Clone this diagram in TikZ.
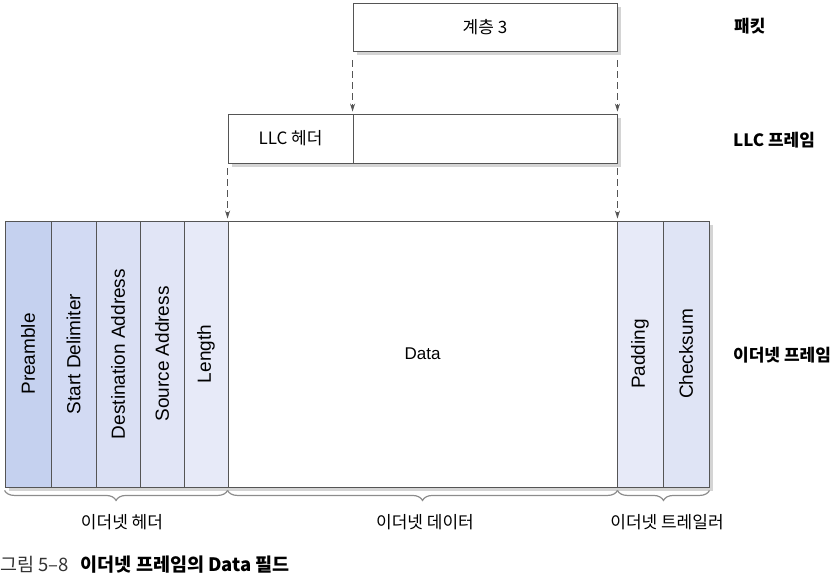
\documentclass[tikz,border=0pt]{standalone}
\usepackage{fontspec}
\setmainfont{Liberation Sans}
\newfontfamily\kr{Noto Sans CJK KR}
\usepackage{tikz}
\usetikzlibrary{arrows.meta,positioning,calc,decorations.pathreplacing}

\definecolor{linegray}{HTML}{555555}
\definecolor{shadowgray}{HTML}{D4D4D4}
\definecolor{bracegray}{HTML}{8C8C8C}
\definecolor{fillA}{HTML}{C5D1EF}
\definecolor{fillB}{HTML}{D2DAF3}
\definecolor{fillC}{HTML}{DAE0F4}
\definecolor{fillD}{HTML}{E1E5F6}
\definecolor{fillE}{HTML}{E7EAF8}
\definecolor{fillF}{HTML}{DFE4F5}

\begin{document}
\begin{tikzpicture}[
    x=1pt, y=-1pt,
    box/.style={draw=linegray, line width=0.9pt, fill=white, inner sep=0pt, font=\kr\fontsize{17}{20}\selectfont},
    field/.style={draw=linegray, line width=0.9pt, rotate=90, inner sep=0pt, minimum width=266pt, font=\fontsize{19}{22}\selectfont},
    arrow/.style={-{Stealth[length=8pt, width=5pt]}, linegray, line width=0.8pt, dash pattern=on 7pt off 4pt},
    brace/.style={decorate, decoration={brace, mirror, amplitude=10pt}, bracegray, line width=1.2pt},
    title/.style={anchor=west, inner sep=0pt, font=\kr\bfseries\fontsize{17}{20}\selectfont},
    part/.style={font=\kr\fontsize{17}{20}\selectfont}
]
\useasboundingbox (0,0) rectangle (835,577);

% Shadows
\fill [shadowgray] (357,7) rectangle (621,55);
\fill [shadowgray] (232,118) rectangle (621,167);
\fill [shadowgray] (9,225) rectangle (713,491);

% Packet
\node (packet) at (485,27) [box, minimum width=264pt, minimum height=48pt] {계층 3};
\node (packetlbl) at (734,26) [title] {패킷};

% LLC frame
\node (llchead) at (290.5,138.5) [box, minimum width=125pt, minimum height=49pt] {LLC 헤더};
\node (llcbody) at (485,138.5) [box, minimum width=264pt, minimum height=49pt] {};
\node (llclbl) at (733,140) [title] {LLC 프레임};

% Ethernet frame
\node (pre)  at (28,354)    [field, fill=fillA, minimum height=46pt] {Preamble};
\node (sd)   at (73.5,354)  [field, fill=fillB, minimum height=45pt] {Start Delimiter};
\node (dst)  at (118,354)   [field, fill=fillC, minimum height=44pt] {Destination Address};
\node (src)  at (162,354)   [field, fill=fillD, minimum height=44pt] {Source Address};
\node (len)  at (206,354)   [field, fill=fillE, minimum height=44pt] {Length};
\node (data) at (422.5,354) [draw=linegray, line width=0.9pt, fill=white, minimum width=389pt, minimum height=266pt, inner sep=0pt, font=\fontsize{17}{20}\selectfont] {Data};
\node (pad)  at (640,354)   [field, fill=fillE, minimum height=46pt] {Padding};
\node (chk)  at (686,354)   [field, fill=fillF, minimum height=46pt] {Checksum};
\node (ethlbl) at (733,355) [title] {이더넷 프레임};

% Arrows
\draw [arrow] ([yshift=-9pt]packet.south west) -- ([yshift=2pt]llcbody.north west);
\draw [arrow] ([yshift=-9pt]packet.south east) -- ([yshift=2pt]llcbody.north east);
\draw [arrow] ([yshift=-5pt]llchead.south west) -- ([yshift=2pt]data.north west);
\draw [arrow] ([yshift=-5pt]llcbody.south east) -- ([yshift=2pt]data.north east);

% Braces
\draw [brace] ([yshift=-3pt]pre.north west) -- ([yshift=-3pt]data.south west);
\draw [brace] ([yshift=-3pt]data.south west) -- ([yshift=-3pt]data.south east);
\draw [brace] ([yshift=-3pt]data.south east) -- ([yshift=-3pt]chk.south west);

\node (hdr) at (122,522) [part] {이더넷 헤더};
\node (pay) at (425,522) [part] {이더넷 데이터};
\node (trl) at (667,522) [part] {이더넷 트레일러};

% Caption
\node (cap) at (0,565) [anchor=west, inner sep=0pt, font=\kr\fontsize{18.5}{22}\selectfont] {\textcolor{black!80}{그림 5–8}\hspace{12pt}\textbf{이더넷 프레임의 Data 필드}};

\end{tikzpicture}
\end{document}
